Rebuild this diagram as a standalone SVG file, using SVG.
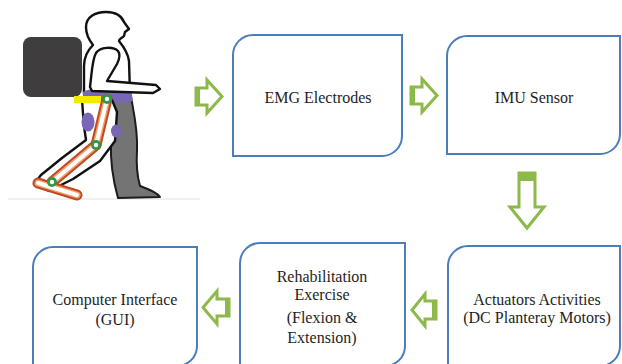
<svg xmlns="http://www.w3.org/2000/svg" width="622" height="364" viewBox="0 0 622 364">
  <style>
    .box { fill: #ffffff; stroke: #4a7ebb; stroke-width: 2; }
    .lbl { font-family: "Liberation Serif", "Times New Roman", serif; font-size: 16px; fill: #1e1e1e; text-anchor: middle; }
    .arrow { fill: #ffffff; stroke: #8db84a; stroke-width: 3; stroke-linejoin: miter; }
    .plug { fill: #8db84a; }
    .outline { fill: #ffffff; stroke: #111111; stroke-width: 2.4; stroke-linejoin: round; }
    .exo-out { stroke: #bf4a1f; stroke-width: 11; stroke-linecap: round; fill: none; }
    .exo-mid { stroke: #f0a070; stroke-width: 7; stroke-linecap: round; fill: none; }
    .exo-in { stroke: #ffffff; stroke-width: 4; stroke-linecap: round; fill: none; }
    .joint { fill: #2e9a46; }
    .joint-c { fill: #ffffff; }
  </style>

  <rect width="622" height="364" fill="#ffffff"/>

  <!-- walking figure wearing the lower-limb exoskeleton -->
  <g id="exoskeleton-figure">
    <line x1="8" y1="199" x2="200" y2="199" stroke="#e2e2e2" stroke-width="1"/>
    <!-- backpack -->
    <rect x="23" y="37" width="59" height="60" rx="8" fill="#3f3d3e"/>
    <!-- torso and head -->
    <path class="outline" d="M84,94 L84,66 C84,56 88,50 93,45 C89,40 86,35 86,27 C86,17 95,12 106,12 C117,12 122,17 124,22 L129,29 L125,32 L124,36 C122,38 119,39 119,41 C123,46 128,53 129,61 L130,94 Z"/>
    <!-- far leg -->
    <path d="M112,99 L131,97 C134,114 138,130 137,150 C136,166 138,179 140,186 C148,189 157,192 160,197 L118,198 C114,184 110,164 111,140 Z" fill="#747474" stroke="#1c1c1c" stroke-width="2" stroke-linejoin="round"/>
    <!-- hip cuff -->
    <path d="M83,92 C90,87 120,87 131,89 L133,101 C120,104 95,104 83,102 Z" fill="#7a66b6"/>
    <!-- near leg -->
    <path class="outline" d="M82,100 L84,126 L86,140 L62,158 L41,175 L34,184 L49,191 L73,179 L100,161 L115,141 L117,112 L112,100 Z"/>
    <!-- thigh and knee cuffs -->
    <ellipse cx="88" cy="122" rx="6.5" ry="9.5" fill="#7a66b6"/>
    <ellipse cx="116" cy="131" rx="5" ry="6.5" fill="#7a66b6"/>
    <!-- arm -->
    <path class="outline" d="M90,87 C92,72 92,60 96,53 C100,47 113,46 118,51 C121,55 119,60 117,64 L107,81 L156,85 L160,89 L153,93 L92,91 Z"/>
    <!-- waist bar -->
    <rect x="74" y="96" width="27" height="7" fill="#f2ea00"/>
    <!-- exoskeleton links -->
    <line class="exo-out" x1="107" y1="99" x2="96" y2="145"/>
    <line class="exo-out" x1="96" y1="145" x2="52" y2="182"/>
    <line class="exo-out" x1="38" y1="183" x2="77" y2="195"/>
    <line class="exo-mid" x1="107" y1="99" x2="96" y2="145"/>
    <line class="exo-mid" x1="96" y1="145" x2="52" y2="182"/>
    <line class="exo-mid" x1="38" y1="183" x2="77" y2="195"/>
    <line class="exo-in" x1="107" y1="99" x2="96" y2="145"/>
    <line class="exo-in" x1="96" y1="145" x2="52" y2="182"/>
    <line class="exo-in" x1="38" y1="183" x2="77" y2="195"/>
    <!-- joints -->
    <circle class="joint" cx="107" cy="99" r="5"/><circle class="joint-c" cx="107" cy="99" r="2.2"/>
    <circle class="joint" cx="96" cy="145" r="5"/><circle class="joint-c" cx="96" cy="145" r="2.2"/>
    <circle class="joint" cx="52" cy="182" r="5"/><circle class="joint-c" cx="52" cy="182" r="2.2"/>
  </g>

  <!-- block arrows between stages -->
  <g id="connectors">
    <polygon class="arrow" points="196,88 207,88 207,80 222,96.5 207,113 207,105 196,105"/>
    <rect class="plug" x="195" y="87" width="5" height="19"/>
    <polygon class="arrow" points="411,87 422,87 422,79 437,95.5 422,112 422,104 411,104"/>
    <rect class="plug" x="410" y="86" width="5" height="19"/>
    <polygon class="arrow" points="519,173 535,173 535,207 544,207 527,228 510,207 519,207"/>
    <rect class="plug" x="518" y="172" width="18" height="9"/>
    <polygon class="arrow" points="436,301 425,301 425,294 412,310 425,326 425,319 436,319"/>
    <rect class="plug" x="432" y="300" width="5" height="20"/>
    <polygon class="arrow" points="229,299 217,299 217,291 203,307.5 217,324 217,316 229,316"/>
    <rect class="plug" x="225" y="298" width="5" height="19"/>
  </g>

  <g id="emg-electrodes">
    <path class="box" d="M233,55 A20,20 0 0 1 253,35 H402 V136 A20,20 0 0 1 382,156 H233 Z"/>
    <text class="lbl" x="318" y="103">EMG Electrodes</text>
  </g>

  <g id="imu-sensor">
    <path class="box" d="M447,56 A20,20 0 0 1 467,36 H620 V134 A20,20 0 0 1 600,154 H447 Z"/>
    <text class="lbl" x="534" y="103">IMU Sensor</text>
  </g>

  <g id="actuators">
    <path class="box" d="M448,266 A20,20 0 0 1 468,246 H620 V346 A20,20 0 0 1 600,366 H448 Z"/>
    <text class="lbl" x="537" y="305">Actuators Activities</text>
    <text class="lbl" x="537" y="323">(DC Planteray Motors)</text>
  </g>

  <g id="rehabilitation">
    <path class="box" d="M240,263 A20,20 0 0 1 260,243 H405 V346 A20,20 0 0 1 385,366 H240 Z"/>
    <text class="lbl" x="322" y="282">Rehabilitation</text>
    <text class="lbl" x="322" y="300">Exercise</text>
    <text class="lbl" x="322" y="323">(Flexion &amp;</text>
    <text class="lbl" x="322" y="343">Extension)</text>
  </g>

  <g id="computer-interface">
    <path class="box" d="M33,267 A20,20 0 0 1 53,247 H197 V346 A20,20 0 0 1 177,366 H33 Z"/>
    <text class="lbl" x="115" y="305">Computer Interface</text>
    <text class="lbl" x="115" y="325">(GUI)</text>
  </g>
</svg>
